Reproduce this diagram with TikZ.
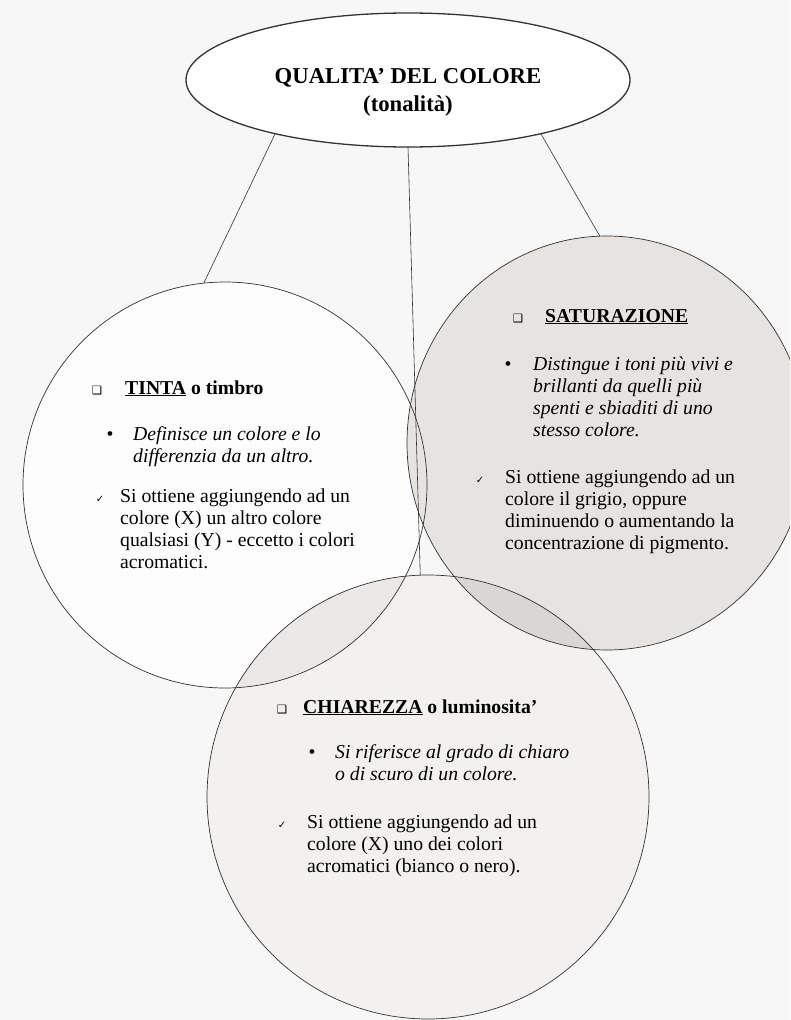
\documentclass[tikz,border=0pt]{standalone}
\usepackage{fontspec}
\setmainfont{Liberation Serif}
\newfontfamily\dingfont{DejaVu Sans}
\usepackage{xcolor}
\usetikzlibrary{shapes.geometric,positioning}

\definecolor{paper}{HTML}{F8F7F7}
\definecolor{tintafill}{HTML}{FDFDFD}
\definecolor{satfill}{HTML}{E6E3E0}
\definecolor{chiarfill}{HTML}{F3F1EF}
\definecolor{lensA}{HTML}{EBE9E7}
\definecolor{lensB}{HTML}{D9D6D3}
\definecolor{edge}{HTML}{333333}

\newcommand\bodysize{\fontsize{19.7}{22}\selectfont}
\newcommand\rows[1]{\parbox[t]{330pt}{\raggedright #1}}

\tikzset{%
	lobe/.style     = {draw=edge, line width=0.7pt, ellipse, inner sep=0pt, outer sep=0pt},
	link/.style     = {draw=edge, line width=0.6pt},
	tintaR/.style   = {x radius=202pt, y radius=203pt}, % TINTA
	satR/.style     = {x radius=200pt, y radius=207pt}, % SATURAZIONE
	chiarR/.style   = {x radius=221pt, y radius=222pt}, % CHIAREZZA
	titletext/.style= {anchor=base, inner sep=0pt, font=\fontsize{22.7}{28}\selectfont\bfseries},
	hdtext/.style   = {anchor=base west, inner sep=0pt, font=\bodysize\bfseries},
	deftext/.style  = {anchor=base west, inner sep=0pt, font=\bodysize\itshape},
	howtext/.style  = {anchor=base west, inner sep=0pt, font=\bodysize},
	sqbox/.style    = {anchor=base, inner sep=0pt, font=\dingfont\fontsize{11.5}{11.5}\selectfont},
	dotmark/.style  = {anchor=base, inner sep=0pt, font=\bodysize},
	chk/.style      = {anchor=base, inner sep=0pt, font=\dingfont\fontsize{10}{10}\selectfont},
}

\begin{document}
\begin{tikzpicture}[x=1pt,y=-1pt]
	\useasboundingbox (0,0) rectangle (790,1020);
	\fill[paper] (0,0) rectangle (790,1020);
	\clip (0,0) rectangle (790,1020);
	% fills and overlaps
	\fill[tintafill] (225,485) ellipse [tintaR];
	\fill[satfill] (607,443) ellipse [satR];
	\fill[chiarfill] (428,797) ellipse [chiarR];
	\begin{scope}
		\clip (225,485) ellipse [tintaR];
		\fill[lensA] (428,797) ellipse [chiarR];
	\end{scope}
	\begin{scope}
		\clip (607,443) ellipse [satR];
		\fill[lensB] (428,797) ellipse [chiarR];
	\end{scope}
	% outlines
	\node[lobe, minimum width=404pt, minimum height=406pt] (tinta) at (225,485) {};
	\node[lobe, minimum width=400pt, minimum height=414pt] (sat) at (607,443) {};
	\node[lobe, minimum width=442pt, minimum height=444pt] (chiar) at (428,797) {};
	\node[lobe, fill=white, line width=1.3pt, minimum width=444pt, minimum height=134pt] (qual) at (408,80) {};
	\node[titletext] (qualtxt) at (408,83) {\parbox[t]{300pt}{\centering QUALITA’ DEL COLORE\\(tonalità)}};
	\draw[link] (qual.202) -- (tinta.96);
	\draw[link] (qual.270) -- (chiar.92);
	\draw[link] (qual.338) -- (sat.92);
	% TINTA
	\node[sqbox] (tsq) at (97,394) {❑};
	\node[hdtext] (thead) at (125,394) {\underline{TINTA} o timbro};
	\node[dotmark] (tdot) at (110,440) {•};
	\node[deftext] (tdef) at (133,440) {\rows{Definisce un colore e lo\\differenzia da un altro.}};
	\node[chk] (tchk) at (100,502) {✓};
	\node[howtext] (thow) at (120,502) {\rows{Si ottiene aggiungendo ad un\\colore (X) un altro colore\\qualsiasi (Y) - eccetto i colori\\acromatici.}};
	% SATURAZIONE
	\node[sqbox] (ssq) at (518,322) {❑};
	\node[hdtext] (shead) at (545,322) {\underline{SATURAZIONE}};
	\node[dotmark] (sdot) at (508,370) {•};
	\node[deftext] (sdef) at (533,370) {\rows{Distingue i toni più vivi e\\brillanti da quelli più\\spenti e sbiaditi di uno\\stesso colore.}};
	\node[chk] (schk) at (480,483) {✓};
	\node[howtext] (show) at (505,483) {\rows{Si ottiene aggiungendo ad un\\colore il grigio, oppure\\diminuendo o aumentando la\\concentrazione di pigmento.}};
	% CHIAREZZA
	\node[sqbox] (csq) at (282,713) {❑};
	\node[hdtext] (chead) at (303,713) {\underline{CHIAREZZA} o luminosita’};
	\node[dotmark] (cdot) at (312,758) {•};
	\node[deftext] (cdef) at (335,758) {\rows{Si riferisce al grado di chiaro\\o di scuro di un colore.}};
	\node[chk] (cchk) at (282,828) {✓};
	\node[howtext] (chow) at (307,828) {\rows{Si ottiene aggiungendo ad un\\colore (X) uno dei colori\\acromatici (bianco o nero).}};
\end{tikzpicture}
\end{document}
